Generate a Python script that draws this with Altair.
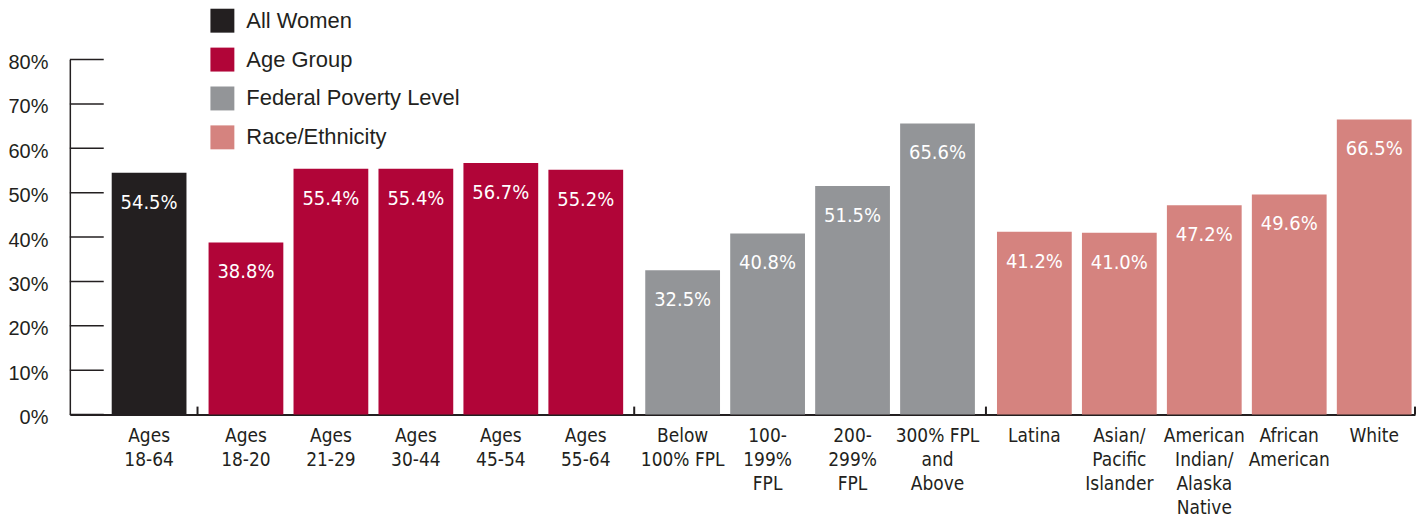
import altair as alt
import pandas as pd

categories = [
    "Ages\n18-64",
    "Ages\n18-20", "Ages\n21-29", "Ages\n30-44", "Ages\n45-54", "Ages\n55-64",
    "Below\n100% FPL", "100-\n199%\nFPL", "200-\n299%\nFPL", "300% FPL\nand\nAbove",
    "Latina", "Asian/\nPacific\nIslander", "American\nIndian/\nAlaska\nNative",
    "African\nAmerican", "White",
]
values = [54.5, 38.8, 55.4, 55.4, 56.7, 55.2, 32.5, 40.8, 51.5, 65.6,
          41.2, 41.0, 47.2, 49.6, 66.5]
groups = (["All Women"] + ["Age Group"] * 5 + ["Federal Poverty Level"] * 4
          + ["Race/Ethnicity"] * 5)
group_order = ["All Women", "Age Group", "Federal Poverty Level", "Race/Ethnicity"]
group_colors = ["#231f20", "#b10538", "#939598", "#d5837f"]
y_ticks = [0, 10, 20, 30, 40, 50, 60, 70, 80]

GAP = 0.14      # extra space between groups, in bar steps
HALF = 0.44     # half bar width, in bar steps
TEXT = "#231f20"
NARROW = "DejaVu Sans Condensed, sans-serif"
REG = "Liberation Sans, Arial, sans-serif"

W, H = 1349, 356
X_MIN = -0.933
X_MAX = X_MIN + W / 85.2

pos = [i + GAP * group_order.index(g) for i, g in enumerate(groups)]
df = pd.DataFrame({
    "cat": categories,
    "value": values,
    "group": groups,
    "pos": pos,
    "x0": [p - HALF for p in pos],
    "x1": [p + HALF for p in pos],
    "label": [f"{v:.1f}%" for v in values],
})

seps = []
for g in range(len(group_order) - 1):
    last = max(p for p, gg in zip(pos, groups) if gg == group_order[g])
    first = min(p for p, gg in zip(pos, groups) if gg == group_order[g + 1])
    seps.append((last + first) / 2)
seps.append(X_MAX)
sep_df = pd.DataFrame({"pos": seps})
tick_df = pd.DataFrame({"value": y_ticks})

xscale = alt.Scale(domain=[X_MIN, X_MAX], nice=False, zero=False)
yscale = alt.Scale(domain=[0, 80], nice=False)

bars = alt.Chart(df).mark_rect().encode(
    x=alt.X("x0:Q", scale=xscale,
            axis=alt.Axis(labels=False, ticks=False, grid=False, title=None,
                          domainColor=TEXT, domainWidth=2)),
    x2="x1:Q",
    y=alt.Y("value:Q", scale=yscale,
            axis=alt.Axis(values=y_ticks, labelExpr="datum.value + '%'",
                          ticks=False, tickSize=0, grid=False, title=None,
                          domainColor=TEXT, domainWidth=1.5,
                          labelFont=REG, labelFontSize=20, labelColor=TEXT,
                          labelPadding=22, labelBaseline="middle", labelOffset=3)),
    y2=alt.datum(0),
    color=alt.Color("group:N",
                    scale=alt.Scale(domain=group_order, range=group_colors),
                    legend=alt.Legend(orient="none", legendX=141, legendY=-51,
                                      title=None, symbolType="square",
                                      symbolSize=576, symbolStrokeWidth=0,
                                      symbolOpacity=1, labelFont=REG,
                                      labelFontSize=22, labelColor=TEXT,
                                      rowPadding=15, labelOffset=12,
                                      labelLimit=400, padding=0)),
)

bar_labels = alt.Chart(df).mark_text(
    color="white", font=NARROW, fontSize=20, baseline="alphabetic", dy=36
).encode(x="pos:Q", y="value:Q", text="label:N")

x_labels = alt.Chart(df).mark_text(
    color=TEXT, font=NARROW, fontSize=19, baseline="top", align="center",
    lineBreak="\n", lineHeight=24
).encode(x="pos:Q", y=alt.value(H + 13), text="cat:N")

y_tick_rules = alt.Chart(tick_df).mark_rule(color=TEXT, strokeWidth=1.5).encode(
    y="value:Q", x=alt.value(0), x2=alt.value(34)
)

sep_rules = alt.Chart(sep_df).mark_rule(color=TEXT, strokeWidth=2).encode(
    x="pos:Q", y=alt.value(H - 8), y2=alt.value(H)
)

chart = alt.layer(bars, bar_labels, x_labels, y_tick_rules, sep_rules).properties(
    width=W, height=H,
    autosize=alt.AutoSizeParams(type="none"),
    padding={"left": 62, "top": 51, "right": 4, "bottom": 106},
).configure_view(stroke=None)

chart.save("out.html", embed_options={"renderer": "svg", "actions": False})
